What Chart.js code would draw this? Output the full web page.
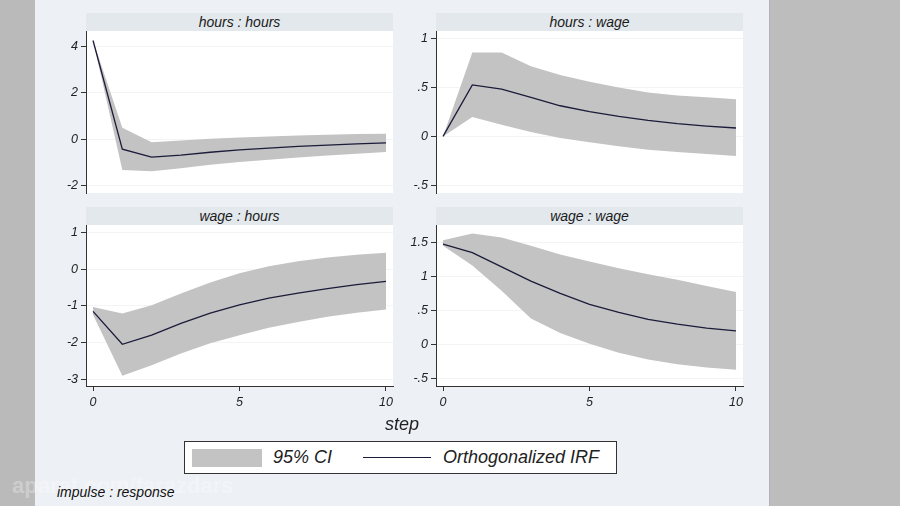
<!DOCTYPE html>
<html><head><meta charset="utf-8">
<script src="https://cdn.jsdelivr.net/npm/chart.js@4.4.1/dist/chart.umd.min.js"></script>
<style>
html,body{margin:0;padding:0;}
body{width:900px;height:506px;position:relative;overflow:hidden;background:#edf1f5;font-family:"Liberation Sans",Arial,sans-serif;}
.side{position:absolute;top:0;height:506px;}
.hdr{position:absolute;height:18px;background:#e2e8ec;font-style:italic;font-size:14px;color:#1a1a1a;text-align:center;line-height:18px;}
canvas{position:absolute;}
.txt{position:absolute;font-style:italic;color:#222;white-space:nowrap;}
</style>
</head><body>
<div class="side" style="left:0;width:35px;background:#bababa"></div>
<div class="side" style="left:769px;width:131px;background:#bdbdbd;border-left:1px solid #b0b4b8"></div>

<div class="hdr" style="left:86px;top:13px;width:307px">hours : hours</div>
<div class="hdr" style="left:436px;top:13px;width:307px">hours : wage</div>
<div class="hdr" style="left:86px;top:207px;width:307px">wage : hours</div>
<div class="hdr" style="left:436px;top:207px;width:307px">wage : wage</div>

<canvas id="c1"></canvas>
<canvas id="c2"></canvas>
<canvas id="c3"></canvas>
<canvas id="c4"></canvas>

<div class="txt" style="left:385px;top:414px;font-size:18px;">step</div>

<div style="position:absolute;left:184px;top:441px;width:431px;height:31px;border:1px solid #333;background:#fff;"></div>
<div style="position:absolute;left:192px;top:449px;width:70px;height:18px;background:#c3c3c3;"></div>
<div class="txt" style="left:273px;top:447px;font-size:18px;">95% CI</div>
<div style="position:absolute;left:363px;top:457px;width:68px;height:1.4px;background:#1b1b3a;"></div>
<div class="txt" style="left:443px;top:447px;font-size:18px;">Orthogonalized IRF</div>

<div class="txt" style="left:12px;top:473px;font-size:22px;font-weight:bold;font-style:normal;color:rgba(255,255,255,0.3);">aparat.com/farazdars</div>
<div class="txt" style="left:57px;top:484px;font-size:14px;color:#111;">impulse : response</div>

<script>
// ---- data ----
const steps = [0,1,2,3,4,5,6,7,8,9,10];
const xTicks = [0,5,10];
const xLabels = ['0','5','10'];

// hours : hours
const hhIrf = [4.24,-0.43,-0.77,-0.68,-0.56,-0.46,-0.38,-0.31,-0.25,-0.20,-0.16];
const hhLo  = [4.24,-1.32,-1.38,-1.25,-1.10,-0.98,-0.88,-0.78,-0.70,-0.62,-0.55];
const hhHi  = [4.24,0.49,-0.13,-0.05,0.02,0.07,0.12,0.16,0.19,0.22,0.24];
const hhTicks = [-2,0,2,4];
const hhLabels = ['-2','0','2','4'];

// hours : wage
const hwIrf = [0,0.527,0.485,0.40,0.314,0.253,0.205,0.164,0.13,0.106,0.086];
const hwLo  = [0,0.20,0.12,0.045,-0.017,-0.06,-0.10,-0.136,-0.16,-0.18,-0.20];
const hwHi  = [0,0.86,0.86,0.72,0.63,0.56,0.50,0.45,0.42,0.40,0.38];
const hwTicks = [-0.5,0,0.5,1];
const hwLabels = ['-.5','0','.5','1'];

// wage : hours
const whIrf = [-1.15,-2.05,-1.80,-1.48,-1.20,-0.97,-0.79,-0.65,-0.53,-0.42,-0.33];
const whLo  = [-1.24,-2.91,-2.62,-2.30,-2.02,-1.80,-1.60,-1.44,-1.30,-1.19,-1.10];
const whHi  = [-1.03,-1.21,-0.98,-0.66,-0.36,-0.11,0.08,0.22,0.32,0.40,0.45];
const whTicks = [-3,-2,-1,0,1];
const whLabels = ['-3','-2','-1','0','1'];

// wage : wage
const wwIrf = [1.475,1.35,1.14,0.93,0.75,0.59,0.47,0.37,0.30,0.24,0.20];
const wwLo  = [1.45,1.16,0.79,0.38,0.17,0.01,-0.12,-0.22,-0.29,-0.34,-0.37];
const wwHi  = [1.53,1.63,1.57,1.45,1.32,1.22,1.12,1.03,0.95,0.86,0.77];
const wwTicks = [-0.5,0,0.5,1,1.5];
const wwLabels = ['-.5','0','.5','1','1.5'];

// ---- drawing ----
const FONT = {family:'"Liberation Sans", Arial, sans-serif', size:12.5, style:'italic'};
const BAND = '#c3c3c3';
const LINE = '#1b1b3a';
const pts = arr => steps.map((s,i)=>({x:s,y:arr[i]}));

const bgPlugin = {id:'plotbg', beforeDraw(c){const a=c.chartArea;const g=c.ctx;g.save();g.fillStyle='#ffffff';g.fillRect(a.left,a.top,a.right-a.left,a.bottom-a.top);g.restore();}};

function panel(id, L, T, W, H, yMin, yMax, yT, yL, irf, lo, hi, showX){
  const cv = document.getElementById(id);
  const AXW = 50, PAD = 15, XH = 30;
  cv.width = AXW + W + PAD;
  cv.height = PAD + H + (showX ? XH + 5 : PAD);
  cv.style.left = (L - AXW) + 'px';
  cv.style.top = (T - PAD) + 'px';
  new Chart(cv, {
    type:'line',
    data:{datasets:[
      {label:'Orthogonalized IRF', data:pts(irf), fill:false, borderColor:LINE, borderWidth:1.3, pointRadius:0, tension:0},
      {label:'95% CI', data:pts(hi), fill:'+1', backgroundColor:BAND, borderColor:'rgba(0,0,0,0)', borderWidth:0, pointRadius:0, tension:0},
      {label:'lower', data:pts(lo), fill:false, borderColor:'rgba(0,0,0,0)', borderWidth:0, pointRadius:0, tension:0}
    ]},
    options:{
      responsive:false, animation:false, devicePixelRatio:1,
      layout:{padding:{left:0, top:PAD, right:PAD, bottom: showX ? 5 : PAD}},
      plugins:{legend:{display:false}, tooltip:{enabled:false}},
      scales:{
        x:{type:'linear', min:-0.24, max:10.24, display:showX,
           afterBuildTicks: ax => { ax.ticks = xTicks.map(v=>({value:v})); },
           afterFit: ax => { ax.height = showX ? XH : 0; },
           ticks:{callback:(v,i)=>xLabels[i], font:FONT, color:'#222', padding:4, maxRotation:0, autoSkip:false},
           grid:{drawOnChartArea:false, tickLength:5, tickColor:'#333'},
           border:{color:'#333', width:1}},
        y:{type:'linear', min:yMin, max:yMax,
           afterBuildTicks: ax => { ax.ticks = yT.map(v=>({value:v})); },
           afterFit: ax => { ax.width = AXW; },
           ticks:{callback:(v,i)=>yL[i], font:FONT, color:'#222', padding:3, autoSkip:false},
           grid:{color:'#f2f4f6', tickLength:5, tickColor:'#333'},
           border:{color:'#333', width:1}}
      }
    },
    plugins:[bgPlugin]
  });
}

panel('c1', 86, 31, 307, 162, -2.31, 4.65, hhTicks, hhLabels, hhIrf, hhLo, hhHi, false);
panel('c2', 436, 31, 307, 162, -0.58, 1.08, hwTicks, hwLabels, hwIrf, hwLo, hwHi, false);
panel('c3', 86, 225, 307, 161, -3.19, 1.21, whTicks, whLabels, whIrf, whLo, whHi, true);
panel('c4', 436, 225, 307, 161, -0.61, 1.755, wwTicks, wwLabels, wwIrf, wwLo, wwHi, true);
</script>
</body></html>
